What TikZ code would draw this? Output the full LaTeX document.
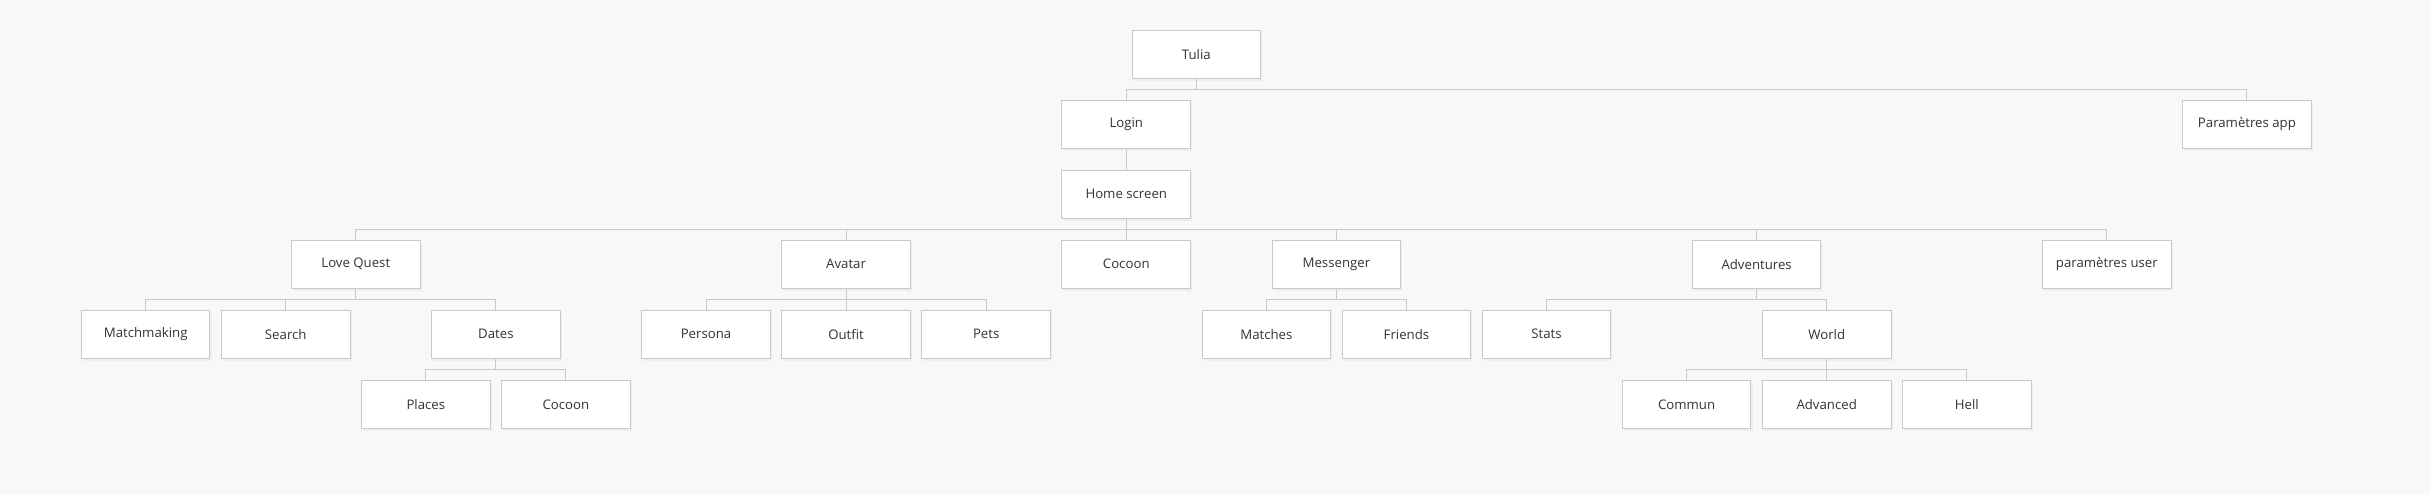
\documentclass[tikz,border=0pt]{standalone}
\usepackage{fontspec}
\setmainfont{Open Sans}
\usetikzlibrary{shadows}

\definecolor{bggray}{HTML}{F7F8FA}
\definecolor{linegray}{HTML}{C8C9CD}
\definecolor{textgray}{HTML}{333333}

\tikzset{
	screen/.style = {draw = linegray, line width = 0.7pt, fill = white, minimum width = 3.215cm, minimum height = 1.2cm, inner sep = 0pt, text = textgray, font = \fontsize{9.4}{11}\selectfont, drop shadow = {opacity = 0.08, shadow xshift = 0.04cm, shadow yshift = -0.07cm}},
	link/.style = {draw = linegray, line width = 0.7pt}
}

\begin{document}
\begin{tikzpicture}[x = 3.502cm, y = -1.751cm]
	 \fill[bggray] (-1.040, -0.772) rectangle (16.307, 6.296);
	 
	 \node[screen] (tulia) at (7.5, 0) {Tulia};
	 
	 \node[screen] (login) at (7, 1) {Login};
	 \node[screen] (papp) at (15, 1) {Paramètres app};
	 
	 \node[screen] (home) at (7, 2) {Home screen};
	 
	 \node[screen] (lovequest) at (1.5, 3) {Love Quest};
	 \node[screen] (avatar) at (5, 3) {Avatar};
	 \node[screen] (cocoon) at (7, 3) {Cocoon};
	 \node[screen] (messenger) at (8.5, 3) {Messenger};
	 \node[screen] (adventures) at (11.5, 3) {Adventures};
	 \node[screen] (puser) at (14, 3) {paramètres user};
	 
	 \node[screen] (matchmaking) at (0, 4) {Matchmaking};
	 \node[screen] (search) at (1, 4) {Search};
	 \node[screen] (dates) at (2.5, 4) {Dates};
	 \node[screen] (persona) at (4, 4) {Persona};
	 \node[screen] (outfit) at (5, 4) {Outfit};
	 \node[screen] (pets) at (6, 4) {Pets};
	 \node[screen] (matches) at (8, 4) {Matches};
	 \node[screen] (friends) at (9, 4) {Friends};
	 \node[screen] (stats) at (10, 4) {Stats};
	 \node[screen] (world) at (12, 4) {World};
	 
	 \node[screen] (places) at (2, 5) {Places};
	 \node[screen] (datecocoon) at (3, 5) {Cocoon};
	 \node[screen] (commun) at (11, 5) {Commun};
	 \node[screen] (advanced) at (12, 5) {Advanced};
	 \node[screen] (hell) at (13, 5) {Hell};
	 
	 \foreach \p/\c in {tulia/login, tulia/papp, login/home,
	 	home/lovequest, home/avatar, home/cocoon, home/messenger, home/adventures, home/puser,
	 	lovequest/matchmaking, lovequest/search, lovequest/dates,
	 	avatar/persona, avatar/outfit, avatar/pets,
	 	messenger/matches, messenger/friends,
	 	adventures/stats, adventures/world,
	 	dates/places, dates/datecocoon,
	 	world/commun, world/advanced, world/hell}
	 \draw[link] (\p.south) -- ++(0, -0.276cm) -| (\c.north);
\end{tikzpicture}
\end{document}
